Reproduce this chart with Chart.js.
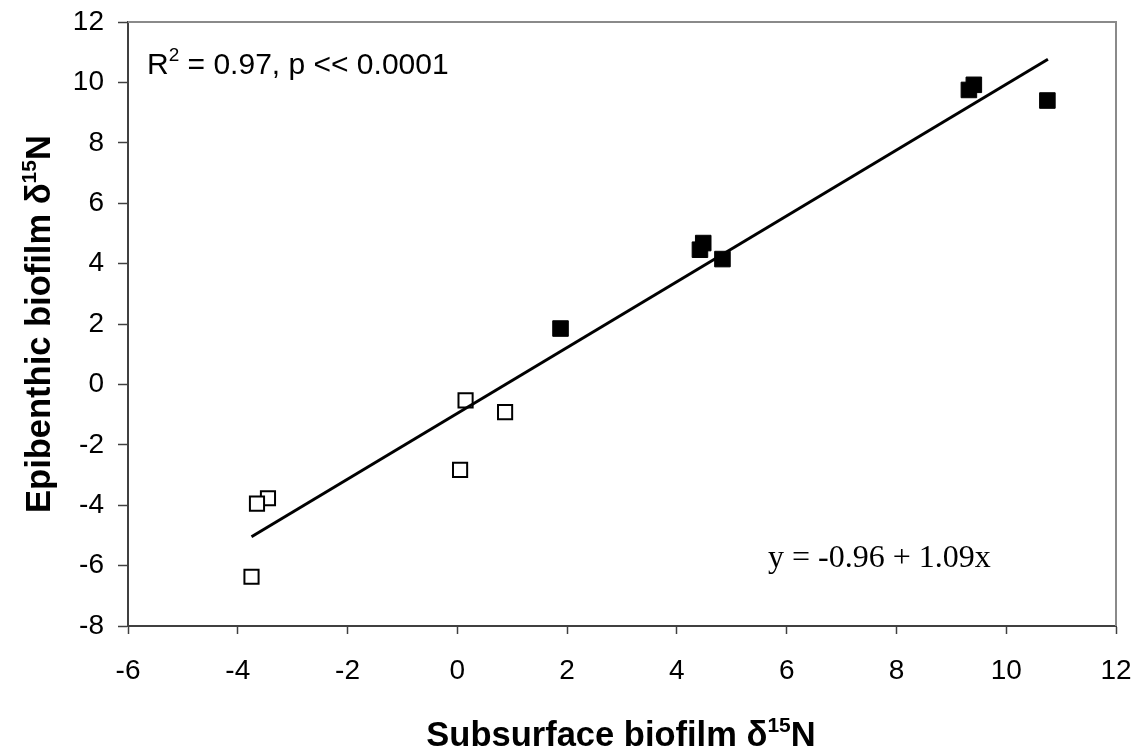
<!DOCTYPE html>
<html>
<head>
<meta charset="utf-8">
<script src="https://cdn.jsdelivr.net/npm/chart.js@4.4.1/dist/chart.umd.min.js"></script>
<style>
  html, body { margin: 0; padding: 0; background: #fff; }
  #wrap { width: 1140px; height: 750px; }
</style>
</head>
<body>
<div id="wrap"><canvas id="chart" width="1140" height="750"></canvas></div>
<script>
// open squares (one site group) and filled squares (the other)
const subsurfaceOpen = [0.15, 0.87, 0.05, -3.45, -3.65, -3.75];
const epibenthicOpen = [-0.53, -0.92, -2.83, -3.77, -3.95, -6.37];
const subsurfaceFilled = [1.88, 4.48, 4.42, 4.83, 9.41, 9.32, 10.75];
const epibenthicFilled = [1.85, 4.68, 4.46, 4.15, 9.92, 9.75, 9.40];

// regression y = a + b x, drawn over the range of the data
const fitIntercept = -0.96;
const fitSlope = 1.09;
const fitRange = [-3.75, 10.76];

const xTicks = [-6, -4, -2, 0, 2, 4, 6, 8, 10, 12];
const yTicks = [-8, -6, -4, -2, 0, 2, 4, 6, 8, 10, 12];

const statsText = [['R'], ['2', true], [' = 0.97, p << 0.0001']];
const equationText = 'y = -0.96 + 1.09x';
const xTitle = [['Subsurface biofilm δ'], ['15', true], ['N']];
const yTitle = [['Epibenthic biofilm δ'], ['15', true], ['N']];

const toPts = (xs, ys) => xs.map((x, i) => ({x: x, y: ys[i]}));

// draws text with superscript pieces, centered or left aligned
function richText(ctx, parts, x, y, size, weight, align) {
  const main = weight + ' ' + size + 'px "Liberation Sans", Arial, sans-serif';
  const sup = weight + ' ' + Math.round(size * 0.62) + 'px "Liberation Sans", Arial, sans-serif';
  let total = 0;
  parts.forEach(p => { ctx.font = p[1] ? sup : main; total += ctx.measureText(p[0]).width; });
  let cx = align === 'center' ? x - total / 2 : x;
  ctx.textAlign = 'left';
  ctx.textBaseline = 'alphabetic';
  parts.forEach(p => {
    ctx.font = p[1] ? sup : main;
    ctx.fillText(p[0], cx, p[1] ? y - size * 0.42 : y);
    cx += ctx.measureText(p[0]).width;
  });
}

const decorations = {
  id: 'decorations',
  beforeDatasetsDraw(chart) {
    const {ctx, chartArea: a} = chart;
    ctx.save();
    ctx.strokeStyle = '#8a8a8a';
    ctx.lineWidth = 2;
    ctx.beginPath();
    ctx.moveTo(a.left, a.top);
    ctx.lineTo(a.right, a.top);
    ctx.lineTo(a.right, a.bottom);
    ctx.stroke();
    ctx.restore();
  },
  afterDraw(chart) {
    const {ctx} = chart;
    ctx.save();
    ctx.fillStyle = '#000';
    richText(ctx, statsText, 147, 74, 30, 'normal', 'left');
    ctx.font = '32px "Liberation Serif", "Times New Roman", serif';
    ctx.textAlign = 'left';
    ctx.textBaseline = 'alphabetic';
    ctx.fillText(equationText, 768, 567);
    richText(ctx, xTitle, 621, 746, 34.5, 'bold', 'center');
    ctx.translate(50, 324);
    ctx.rotate(-Math.PI / 2);
    richText(ctx, yTitle, 0, 0, 34.5, 'bold', 'center');
    ctx.restore();
  }
};

const tickFont = {family: '"Liberation Sans", Arial, sans-serif', size: 28};

new Chart(document.getElementById('chart'), {
  type: 'scatter',
  data: {
    datasets: [
      {
        type: 'line',
        label: 'fit',
        data: fitRange.map(x => ({x: x, y: fitIntercept + fitSlope * x})),
        borderColor: '#000',
        borderWidth: 3,
        pointRadius: 0,
        fill: false
      },
      {
        label: 'open',
        data: toPts(subsurfaceOpen, epibenthicOpen),
        pointStyle: 'rect',
        pointRadius: 10,
        backgroundColor: '#fff',
        borderColor: '#000',
        borderWidth: 2
      },
      {
        label: 'filled',
        data: toPts(subsurfaceFilled, epibenthicFilled),
        pointStyle: 'rect',
        pointRadius: 11,
        backgroundColor: '#000',
        borderColor: '#000',
        borderWidth: 1
      }
    ]
  },
  options: {
    responsive: false,
    animation: false,
    layout: {padding: {top: 22, right: 24, left: 0, bottom: 0}},
    plugins: {legend: {display: false}, tooltip: {enabled: false}},
    scales: {
      x: {
        type: 'linear',
        min: -6,
        max: 12,
        afterBuildTicks: s => { s.ticks = xTicks.map(v => ({value: v})); },
        // pin the plot box to the reference instead of label overflow
        afterFit: s => { s.height = 124; s.paddingLeft = 0; s.paddingRight = 0; },
        ticks: {font: tickFont, color: '#000', padding: 20, maxRotation: 0},
        grid: {drawOnChartArea: false, tickLength: 8, tickColor: '#404040', tickWidth: 1.5},
        border: {color: '#404040', width: 2}
      },
      y: {
        type: 'linear',
        min: -8,
        max: 12,
        afterBuildTicks: s => { s.ticks = yTicks.map(v => ({value: v})); },
        afterFit: s => { s.width = 128; s.paddingTop = 0; s.paddingBottom = 0; },
        ticks: {font: tickFont, color: '#000', padding: 14},
        grid: {drawOnChartArea: false, tickLength: 10, tickColor: '#404040', tickWidth: 1.5},
        border: {color: '#404040', width: 2}
      }
    }
  },
  plugins: [decorations]
});
</script>
</body>
</html>
